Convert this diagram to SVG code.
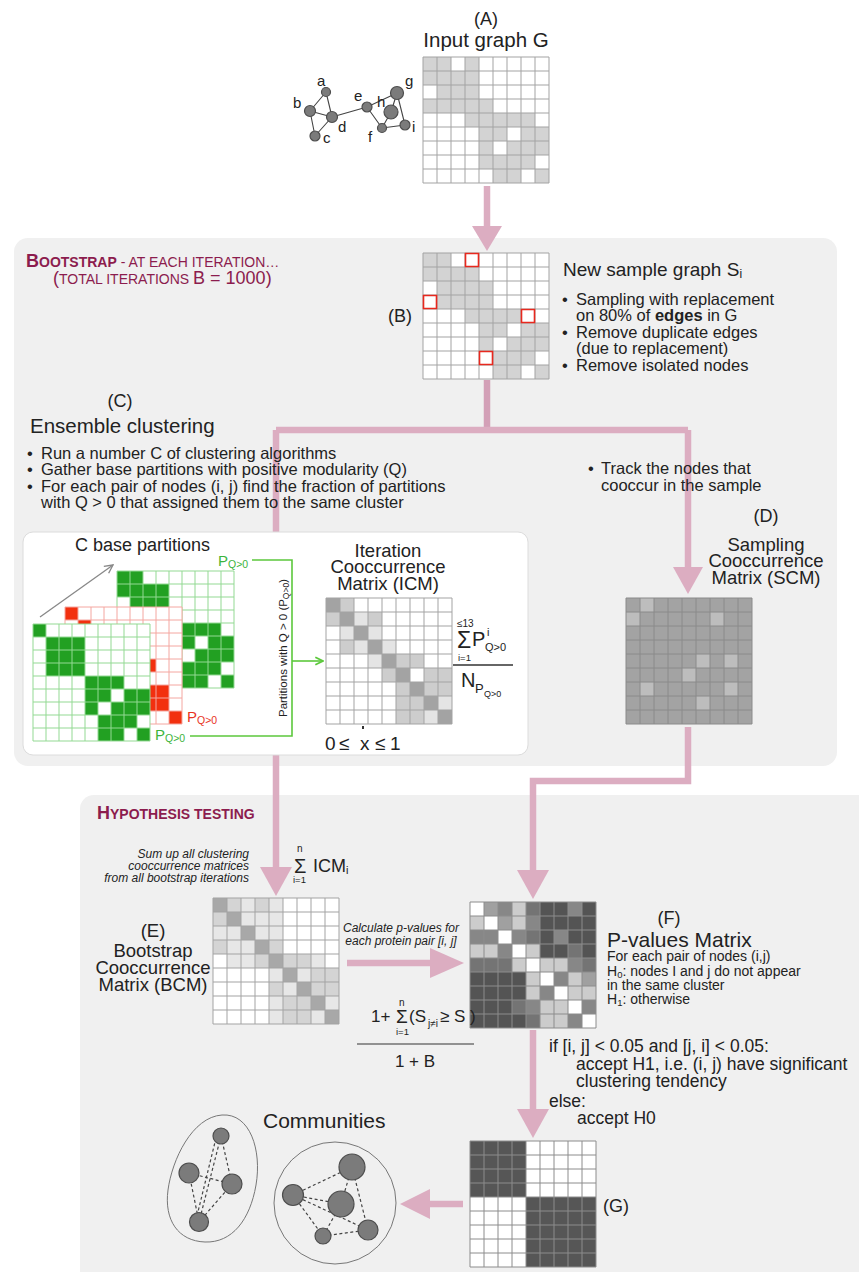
<svg xmlns="http://www.w3.org/2000/svg" width="859" height="1272" viewBox="0 0 859 1272">
<style>
text{font-family:"Liberation Sans",Arial,Helvetica,sans-serif;fill:#222}
.ttl{fill:#8c1c4e}
.it{font-style:italic;font-size:12px}
.pk{stroke:#dcadc1;fill:none;stroke-width:6.5}
.pkf{fill:#dcadc1}
.gl{fill:none;stroke:#a3a3a3;stroke-width:1}
.gn{fill:#7b7b7b;stroke:#4d4d4d;stroke-width:1.2}
.ed{stroke:#444;stroke-width:1.1;fill:none}
.dash{stroke:#444;stroke-width:1.2;fill:none;stroke-dasharray:3 2.5}
.grn{fill:#22a022}
.grnl{fill:none;stroke:#93d993;stroke-width:1}
.gc{fill:none;stroke:#5cc83c;stroke-width:1.6}
</style>
<defs>
<path id="g14" d="M0 0H126M0 14H126M0 28H126M0 42H126M0 56H126M0 70H126M0 84H126M0 98H126M0 112H126M0 126H126M0 0V126M14 0V126M28 0V126M42 0V126M56 0V126M70 0V126M84 0V126M98 0V126M112 0V126M126 0V126"/>
<path id="g13" d="M0 0H117M0 13H117M0 26H117M0 39H117M0 52H117M0 65H117M0 78H117M0 91H117M0 104H117M0 117H117M0 0V117M13 0V117M26 0V117M39 0V117M52 0V117M65 0V117M78 0V117M91 0V117M104 0V117M117 0V117"/>
<marker id="ga" viewBox="0 0 10 10" refX="9" refY="5" markerWidth="8" markerHeight="8" orient="auto"><path d="M1 1L9 5L1 9" fill="none" stroke="#888" stroke-width="1.3"/></marker>
<marker id="gg" viewBox="0 0 10 10" refX="9" refY="5" markerWidth="6" markerHeight="6" orient="auto"><path d="M1 1L9 5L1 9" fill="none" stroke="#5cc83c" stroke-width="1.8"/></marker>
</defs>
<rect width="859" height="1272" fill="#fff"/>

<g id="panel-bootstrap">
<rect x="14" y="238" width="823" height="528" rx="14" fill="#f0f0f0"/>
<text class="ttl" x="26" y="267"><tspan font-size="18" font-weight="bold">B</tspan><tspan font-size="14" font-weight="bold">OOTSTRAP</tspan><tspan font-size="14"> - AT EACH ITERATION…</tspan></text>
<text class="ttl" x="53" y="284"><tspan font-size="18">(</tspan><tspan font-size="14">TOTAL ITERATIONS </tspan><tspan font-size="18">B = 1000)</tspan></text>
</g>
<g id="panel-hypothesis">
<rect x="80" y="795" width="800" height="500" rx="14" fill="#f0f0f0"/>
<text class="ttl" x="97" y="819" font-weight="bold"><tspan font-size="18">H</tspan><tspan font-size="14">YPOTHESIS TESTING</tspan></text>
</g>

<g id="connectors">
<path class="pk" d="M487 186V228"/>
<polygon class="pkf" points="472,226 502,226 487,251"/>
<path class="pk" d="M487 380V431" stroke-width="9" style="stroke:#d3a0b7"/>
<path class="pk" d="M276 430H688"/>
<path class="pk" d="M276 430V870"/>
<polygon class="pkf" points="260,867 292,867 276,896"/>
<path class="pk" d="M688 430V570"/>
<polygon class="pkf" points="673,567 703,567 688,594"/>
<path class="pk" d="M688 727V781H533V872"/>
<polygon class="pkf" points="517,870 549,870 533,899"/>
<path class="pk" d="M347 963H433"/>
<polygon class="pkf" points="430,948 430,978 464,963"/>
<path class="pk" d="M533 1030V1112"/>
<polygon class="pkf" points="517,1109 549,1109 533,1138"/>
<path class="pk" d="M463 1204H428"/>
<polygon class="pkf" points="430,1189 430,1219 400,1204"/>
</g>

<g id="node-A">
<text x="486" y="25" font-size="18" text-anchor="middle">(A)</text>
<text x="486" y="47" font-size="20.5" text-anchor="middle">Input graph G</text>
<g class="ed">
<path d="M326 92L310 111M326 92L332 117M310 111L332 117M310 111L315 136M315 136L332 117M332 117L367 107M367 107L397 93M367 107L382 128M397 93L391 112M397 93L405 125M391 112L382 128M382 128L405 125"/>
</g>
<g class="gn">
<circle cx="326" cy="92" r="4.5"/><circle cx="310" cy="111" r="5.5"/><circle cx="315" cy="136" r="5"/><circle cx="332" cy="117" r="5.5"/><circle cx="367" cy="107" r="5"/><circle cx="391" cy="112" r="7"/><circle cx="397" cy="93" r="6.5"/><circle cx="382" cy="128" r="4.5"/><circle cx="405" cy="125" r="5"/>
</g>
<g font-size="15">
<text x="317" y="86">a</text><text x="293" y="108">b</text><text x="323" y="143">c</text><text x="338" y="132">d</text><text x="354" y="101">e</text><text x="377" y="107">h</text><text x="405" y="86">g</text><text x="368" y="142">f</text><text x="412" y="132">i</text>
</g>
<g transform="translate(423,57)">
<rect width="126" height="126" fill="#fff"/>
<path fill="#d3d3d3" d="M0 0h14v14h-14zM14 0h14v14h-14zM42 0h14v14h-14zM0 14h14v14h-14zM14 14h14v14h-14zM28 14h14v14h-14zM42 14h14v14h-14zM14 28h14v14h-14zM28 28h14v14h-14zM42 28h14v14h-14zM0 42h14v14h-14zM14 42h14v14h-14zM28 42h14v14h-14zM42 42h14v14h-14zM56 42h14v14h-14zM42 56h14v14h-14zM56 56h14v14h-14zM70 56h14v14h-14zM84 56h14v14h-14zM98 56h14v14h-14zM56 70h14v14h-14zM70 70h14v14h-14zM98 70h14v14h-14zM112 70h14v14h-14zM56 84h14v14h-14zM84 84h14v14h-14zM98 84h14v14h-14zM112 84h14v14h-14zM56 98h14v14h-14zM70 98h14v14h-14zM84 98h14v14h-14zM98 98h14v14h-14zM70 112h14v14h-14zM84 112h14v14h-14zM112 112h14v14h-14z"/>
<use href="#g14" class="gl"/>
</g>
</g>

<g id="node-B">
<text x="388" y="322" font-size="18">(B)</text>
<g transform="translate(423,253)">
<rect width="126" height="126" fill="#fff"/>
<path fill="#d3d3d3" d="M0 0h14v14h-14zM14 0h14v14h-14zM0 14h14v14h-14zM14 14h14v14h-14zM28 14h14v14h-14zM42 14h14v14h-14zM14 28h14v14h-14zM28 28h14v14h-14zM42 28h14v14h-14zM56 28h14v14h-14zM14 42h14v14h-14zM28 42h14v14h-14zM42 42h14v14h-14zM56 42h14v14h-14zM42 56h14v14h-14zM56 56h14v14h-14zM70 56h14v14h-14zM84 56h14v14h-14zM56 70h14v14h-14zM70 70h14v14h-14zM98 70h14v14h-14zM112 70h14v14h-14zM56 84h14v14h-14zM84 84h14v14h-14zM98 84h14v14h-14zM112 84h14v14h-14zM70 98h14v14h-14zM84 98h14v14h-14zM98 98h14v14h-14zM70 112h14v14h-14zM84 112h14v14h-14zM112 112h14v14h-14z"/>
<use href="#g14" class="gl"/>
<path fill="none" stroke="#e8281e" stroke-width="1.6" d="M42.5 0.5h13v13h-13zM0.5 42.5h13v13h-13zM98.5 56.5h13v13h-13zM56.5 98.5h13v13h-13z"/>
</g>
<text x="563" y="276" font-size="19">New sample graph S<tspan font-size="12" dy="2">i</tspan></text>
<g font-size="16.5">
<text x="562" y="305">•</text><text x="576" y="305">Sampling with replacement</text>
<text x="576" y="321">on 80% of <tspan font-weight="bold">edges</tspan> in G</text>
<text x="562" y="338">•</text><text x="576" y="338">Remove duplicate edges</text>
<text x="576" y="354">(due to replacement)</text>
<text x="562" y="371">•</text><text x="576" y="371">Remove isolated nodes</text>
</g>
</g>

<g id="node-C">
<text x="120" y="407" font-size="18" text-anchor="middle">(C)</text>
<text x="30" y="433" font-size="20.5">Ensemble clustering</text>
<g font-size="16.5">
<text x="27" y="459">•</text><text x="41" y="459">Run a number C of clustering algorithms</text>
<text x="27" y="475">•</text><text x="41" y="475">Gather base partitions with positive modularity (Q)</text>
<text x="27" y="492">•</text><text x="41" y="492">For each pair of nodes (i, j) find the fraction of partitions</text>
<text x="41" y="508">with Q &gt; 0 that assigned them to the same cluster</text>
</g>
<rect x="23" y="532" width="505" height="223" rx="10" fill="#fff" stroke="#dcdcdc" stroke-width="1"/>
<text x="75" y="551" font-size="18">C base partitions</text>
<line x1="40" y1="617" x2="113" y2="565" stroke="#888" stroke-width="1.3" marker-end="url(#ga)"/>
<g transform="translate(117,571)">
<rect width="117" height="117" fill="#fff"/>
<path class="grn" d="M0 0h13v13h-13zM13 0h13v13h-13zM0 13h13v13h-13zM13 13h13v13h-13zM26 13h13v13h-13zM39 13h13v13h-13zM13 26h13v13h-13zM26 26h13v13h-13zM39 26h13v13h-13zM13 39h13v13h-13zM26 39h13v13h-13zM39 39h13v13h-13zM65 52h13v13h-13zM78 52h13v13h-13zM91 52h13v13h-13zM65 65h13v13h-13zM91 65h13v13h-13zM104 65h13v13h-13zM78 78h13v13h-13zM91 78h13v13h-13zM104 78h13v13h-13zM65 91h13v13h-13zM78 91h13v13h-13zM91 91h13v13h-13zM65 104h13v13h-13zM78 104h13v13h-13zM104 104h13v13h-13z"/>
<use href="#g13" class="grnl"/>
</g>
<g transform="translate(65,607)">
<rect width="117" height="117" fill="#fff"/>
<path fill="#f2300f" d="M0 0h13v13h-13zM13 13h13v13h-13zM26 26h13v13h-13zM39 39h13v13h-13zM78 52h13v13h-13zM78 78h13v13h-13zM91 78h13v13h-13zM78 91h13v13h-13zM91 91h13v13h-13zM104 104h13v13h-13z"/>
<use href="#g13" fill="none" stroke="#f4a6a0" stroke-width="1"/>
</g>
<g transform="translate(33,624)">
<rect width="117" height="117" fill="#fff"/>
<path class="grn" d="M0 0h13v13h-13zM13 13h13v13h-13zM26 13h13v13h-13zM39 13h13v13h-13zM13 26h13v13h-13zM26 26h13v13h-13zM39 26h13v13h-13zM13 39h13v13h-13zM26 39h13v13h-13zM39 39h13v13h-13zM52 52h13v13h-13zM65 52h13v13h-13zM78 52h13v13h-13zM52 65h13v13h-13zM65 65h13v13h-13zM91 65h13v13h-13zM104 65h13v13h-13zM52 78h13v13h-13zM78 78h13v13h-13zM91 78h13v13h-13zM104 78h13v13h-13zM65 91h13v13h-13zM78 91h13v13h-13zM91 91h13v13h-13zM65 104h13v13h-13zM78 104h13v13h-13zM104 104h13v13h-13z"/>
<use href="#g13" class="grnl"/>
</g>
<text x="218" y="566" font-size="15" style="fill:#3cb43c">P<tspan font-size="10.5" dy="2">Q&gt;0</tspan></text>
<text x="187" y="722" font-size="15" style="fill:#e8321e">P<tspan font-size="10.5" dy="2">Q&gt;0</tspan></text>
<text x="155" y="740" font-size="15" style="fill:#3cb43c">P<tspan font-size="10.5" dy="2">Q&gt;0</tspan></text>
<path class="gc" d="M252 560H292V736H190"/>
<line class="gc" x1="292" y1="661" x2="323" y2="661" marker-end="url(#gg)"/>
<text transform="translate(287,648) rotate(-90)" font-size="11.5" text-anchor="middle">Partitions with Q &gt; 0 (P<tspan font-size="8.5" dy="2">Q&gt;0</tspan><tspan dy="-2">)</tspan></text>
<text x="388" y="557" font-size="18.5" text-anchor="middle">Iteration</text>
<text x="388" y="573" font-size="18.5" text-anchor="middle">Cooccurrence</text>
<text x="388" y="590" font-size="18.5" text-anchor="middle">Matrix (ICM)</text>
<g transform="translate(326,598)">
<rect width="126" height="126" fill="#fff"/>
<path fill="#a3a3a3" d="M0 0h14v14h-14zM14 14h14v14h-14zM28 28h14v14h-14zM42 42h14v14h-14zM56 56h14v14h-14zM70 70h14v14h-14zM84 84h14v14h-14zM98 98h14v14h-14zM112 112h14v14h-14z"/>
<path fill="#cdcdcd" d="M14 0h14v14h-14zM0 14h14v14h-14zM42 14h14v14h-14zM14 42h14v14h-14zM70 56h14v14h-14zM84 56h14v14h-14zM56 70h14v14h-14zM98 70h14v14h-14zM112 70h14v14h-14zM70 84h14v14h-14zM98 84h14v14h-14zM112 84h14v14h-14zM70 98h14v14h-14zM84 98h14v14h-14zM70 112h14v14h-14zM84 112h14v14h-14z"/>
<path fill="#e4e4e4" d="M28 14h14v14h-14zM14 28h14v14h-14zM42 28h14v14h-14zM28 42h14v14h-14zM56 42h14v14h-14zM42 56h14v14h-14zM112 98h14v14h-14zM98 112h14v14h-14z"/>
<use href="#g14" class="gl"/>
</g>
<rect x="362" y="726" width="2" height="3" fill="#333"/>
<text x="457" y="627" font-size="10">≤13</text>
<text x="457" y="648" font-size="23">Σ</text>
<text x="472" y="646" font-size="20">P</text>
<text x="487" y="636" font-size="11">i</text>
<text x="485" y="651" font-size="11">Q&gt;0</text>
<text x="458" y="661" font-size="9.5">i=1</text>
<line x1="453" y1="665" x2="513" y2="665" stroke="#333" stroke-width="1.4"/>
<text x="461" y="687" font-size="20">N</text>
<text x="475" y="693" font-size="13">P</text>
<text x="484" y="697" font-size="9">Q&gt;0</text>
<g font-size="19">
<text x="325" y="750">0</text><text x="339" y="750">≤</text><text x="360" y="750">x</text><text x="375" y="750">≤</text><text x="390" y="750">1</text>
</g>
</g>

<g id="node-D">
<g font-size="16.5">
<text x="588" y="474">•</text><text x="601" y="474">Track the nodes that</text>
<text x="601" y="491">cooccur in the sample</text>
</g>
<text x="766" y="522" font-size="18" text-anchor="middle">(D)</text>
<text x="766" y="551" font-size="18.5" text-anchor="middle">Sampling</text>
<text x="766" y="567" font-size="18.5" text-anchor="middle">Cooccurrence</text>
<text x="766" y="584" font-size="18.5" text-anchor="middle">Matrix (SCM)</text>
<g transform="translate(626,598)">
<rect width="126" height="126" fill="#a3a3a3"/>
<path fill="#bdbdbd" d="M14 0h14v14h-14zM0 14h14v14h-14zM84 14h14v14h-14zM70 56h14v14h-14zM98 56h14v14h-14zM56 70h14v14h-14zM14 84h14v14h-14zM98 84h14v14h-14zM70 98h14v14h-14z"/>
<use href="#g14" fill="none" stroke="#8a8a8a" stroke-width="1"/>
</g>
</g>

<g id="node-F">
<g transform="translate(470,902)">
<rect width="126" height="126" fill="#545454"/>
<path fill="#ffffff" d="M0 0h14v14h-14zM14 14h14v14h-14zM28 28h14v14h-14zM42 42h14v14h-14zM56 56h14v14h-14zM70 70h14v14h-14zM84 84h14v14h-14zM98 98h14v14h-14zM112 112h14v14h-14z"/>
<path fill="#cccccc" d="M42 0h14v14h-14zM0 14h14v14h-14zM42 14h14v14h-14zM0 42h14v14h-14zM14 42h14v14h-14zM56 42h14v14h-14zM42 56h14v14h-14zM70 56h14v14h-14zM84 56h14v14h-14zM56 70h14v14h-14zM98 70h14v14h-14zM56 84h14v14h-14zM98 84h14v14h-14zM112 84h14v14h-14zM70 98h14v14h-14zM84 98h14v14h-14zM70 112h14v14h-14zM84 112h14v14h-14z"/>
<path fill="#a0a0a0" d="M14 0h14v14h-14zM28 14h14v14h-14zM112 70h14v14h-14z"/>
<path fill="#878787" d="M28 0h14v14h-14zM98 0h14v14h-14zM56 14h14v14h-14zM0 28h14v14h-14zM14 28h14v14h-14zM42 28h14v14h-14zM84 28h14v14h-14zM28 42h14v14h-14zM98 56h14v14h-14zM84 70h14v14h-14zM70 84h14v14h-14zM56 98h14v14h-14zM112 98h14v14h-14zM98 112h14v14h-14z"/>
<path fill="#747474" d="M56 0h14v14h-14zM56 28h14v14h-14zM98 42h14v14h-14zM0 56h14v14h-14zM14 56h14v14h-14zM28 56h14v14h-14zM112 56h14v14h-14zM42 98h14v14h-14zM56 112h14v14h-14z"/>
<use href="#g14" fill="none" stroke="#8c8c8c" stroke-width="1"/>
</g>
<text x="669" y="924" font-size="18" text-anchor="middle">(F)</text>
<text x="607" y="947" font-size="21">P-values Matrix</text>
<g font-size="14">
<text x="607" y="961">For each pair of nodes (i,j)</text>
<text x="607" y="976">H<tspan font-size="9.5" dy="2">0</tspan><tspan dy="-2">: nodes I and j do not appear</tspan></text>
<text x="607" y="990">in the same cluster</text>
<text x="607" y="1004">H<tspan font-size="9.5" dy="2">1</tspan><tspan dy="-2">: otherwise</tspan></text>
</g>
<g font-size="17.5">
<text x="549" y="1052">if [i, j] &lt; 0.05 and [j, i] &lt; 0.05:</text>
<text x="576" y="1070">accept H1, i.e. (i, j) have significant</text>
<text x="576" y="1087">clustering tendency</text>
<text x="549" y="1107">else:</text>
<text x="577" y="1124">accept H0</text>
</g>
</g>

<g id="node-E">
<text x="249" y="858" class="it" text-anchor="end">Sum up all clustering</text>
<text x="249" y="870" class="it" text-anchor="end">cooccurrence matrices</text>
<text x="249" y="882" class="it" text-anchor="end">from all bootstrap iterations</text>
<text x="297" y="852" font-size="10">n</text>
<text x="294" y="873" font-size="20">Σ</text>
<text x="293" y="883" font-size="9.5">i=1</text>
<text x="313" y="872" font-size="18">ICM<tspan font-size="11" dy="2">i</tspan></text>
<text x="153" y="937" font-size="18.5" text-anchor="middle">(E)</text>
<text x="153" y="957" font-size="18.5" text-anchor="middle">Bootstrap</text>
<text x="153" y="974" font-size="18.5" text-anchor="middle">Cooccurrence</text>
<text x="153" y="991" font-size="18.5" text-anchor="middle">Matrix (BCM)</text>
<g transform="translate(213,898)">
<rect width="126" height="126" fill="#fff"/>
<path fill="#a8a8a8" d="M0 0h14v14h-14zM14 14h14v14h-14zM28 28h14v14h-14zM42 42h14v14h-14zM56 56h14v14h-14zM70 70h14v14h-14zM84 84h14v14h-14zM98 98h14v14h-14zM112 112h14v14h-14z"/>
<path fill="#d4d4d4" d="M14 0h14v14h-14zM42 0h14v14h-14zM0 14h14v14h-14zM0 42h14v14h-14zM56 42h14v14h-14zM42 56h14v14h-14zM70 56h14v14h-14zM84 56h14v14h-14zM98 70h14v14h-14zM112 70h14v14h-14zM56 84h14v14h-14zM98 84h14v14h-14zM112 84h14v14h-14zM70 98h14v14h-14zM84 98h14v14h-14zM70 112h14v14h-14zM84 112h14v14h-14z"/>
<path fill="#e7e7e7" d="M28 0h14v14h-14zM56 0h14v14h-14zM28 14h14v14h-14zM42 14h14v14h-14zM56 14h14v14h-14zM0 28h14v14h-14zM14 28h14v14h-14zM42 28h14v14h-14zM56 28h14v14h-14zM14 42h14v14h-14zM28 42h14v14h-14zM14 56h14v14h-14zM28 56h14v14h-14zM98 56h14v14h-14zM56 70h14v14h-14zM84 70h14v14h-14zM70 84h14v14h-14zM56 98h14v14h-14zM112 98h14v14h-14zM56 112h14v14h-14zM98 112h14v14h-14z"/>
<use href="#g14" class="gl"/>
</g>
<text x="401" y="932" class="it" text-anchor="middle">Calculate p-values for</text>
<text x="401" y="945" class="it" text-anchor="middle">each protein pair [i, j]</text>
<text x="371" y="1022" font-size="17">1+</text>
<text x="399" y="1006" font-size="10">n</text>
<text x="396" y="1023" font-size="19">Σ</text>
<text x="396" y="1035" font-size="9.5">i=1</text>
<text x="409" y="1022" font-size="17">(S</text>
<text x="428" y="1027" font-size="10">j≠i</text>
<text x="440" y="1022" font-size="17">≥ S )</text>
<line x1="357" y1="1044" x2="474" y2="1044" stroke="#333" stroke-width="1.2"/>
<text x="415" y="1067" font-size="17" text-anchor="middle">1 + B</text>
</g>

<g id="node-G">
<g transform="translate(470,1141)">
<rect width="126" height="126" fill="#fff"/>
<rect width="56" height="56" fill="#565656"/>
<rect x="56" y="56" width="70" height="70" fill="#565656"/>
<use href="#g14" fill="none" stroke="#8c8c8c" stroke-width="1"/>
</g>
<text x="603" y="1212" font-size="18">(G)</text>
</g>

<g id="communities">
<text x="263" y="1128" font-size="21">Communities</text>
<path d="M222 1115C250 1113 262 1150 256 1185C250 1220 232 1243 205 1242C178 1241 164 1220 168 1190C172 1160 192 1117 222 1115Z" fill="none" stroke="#777" stroke-width="1"/>
<circle cx="335" cy="1203" r="61" fill="none" stroke="#777" stroke-width="1"/>
<path class="dash" d="M221 1136L232 1184M221 1136L199 1222M216 1138L196 1220M189 1173L232 1184M189 1173L199 1222M232 1184L199 1222"/>
<path class="dash" d="M293 1195L352 1167M293 1195L341 1204M293 1195L368 1230M293 1195L323 1236M352 1167L341 1204M352 1167L368 1230M341 1204L323 1236M323 1236L368 1230"/>
<g class="gn">
<circle cx="221" cy="1136" r="8"/><circle cx="189" cy="1173" r="10"/><circle cx="232" cy="1184" r="10"/><circle cx="199" cy="1222" r="9.5"/>
<circle cx="352" cy="1167" r="13"/><circle cx="293" cy="1195" r="10.5"/><circle cx="341" cy="1204" r="13"/><circle cx="368" cy="1230" r="10"/><circle cx="323" cy="1236" r="8"/>
</g>
</g>
</svg>
